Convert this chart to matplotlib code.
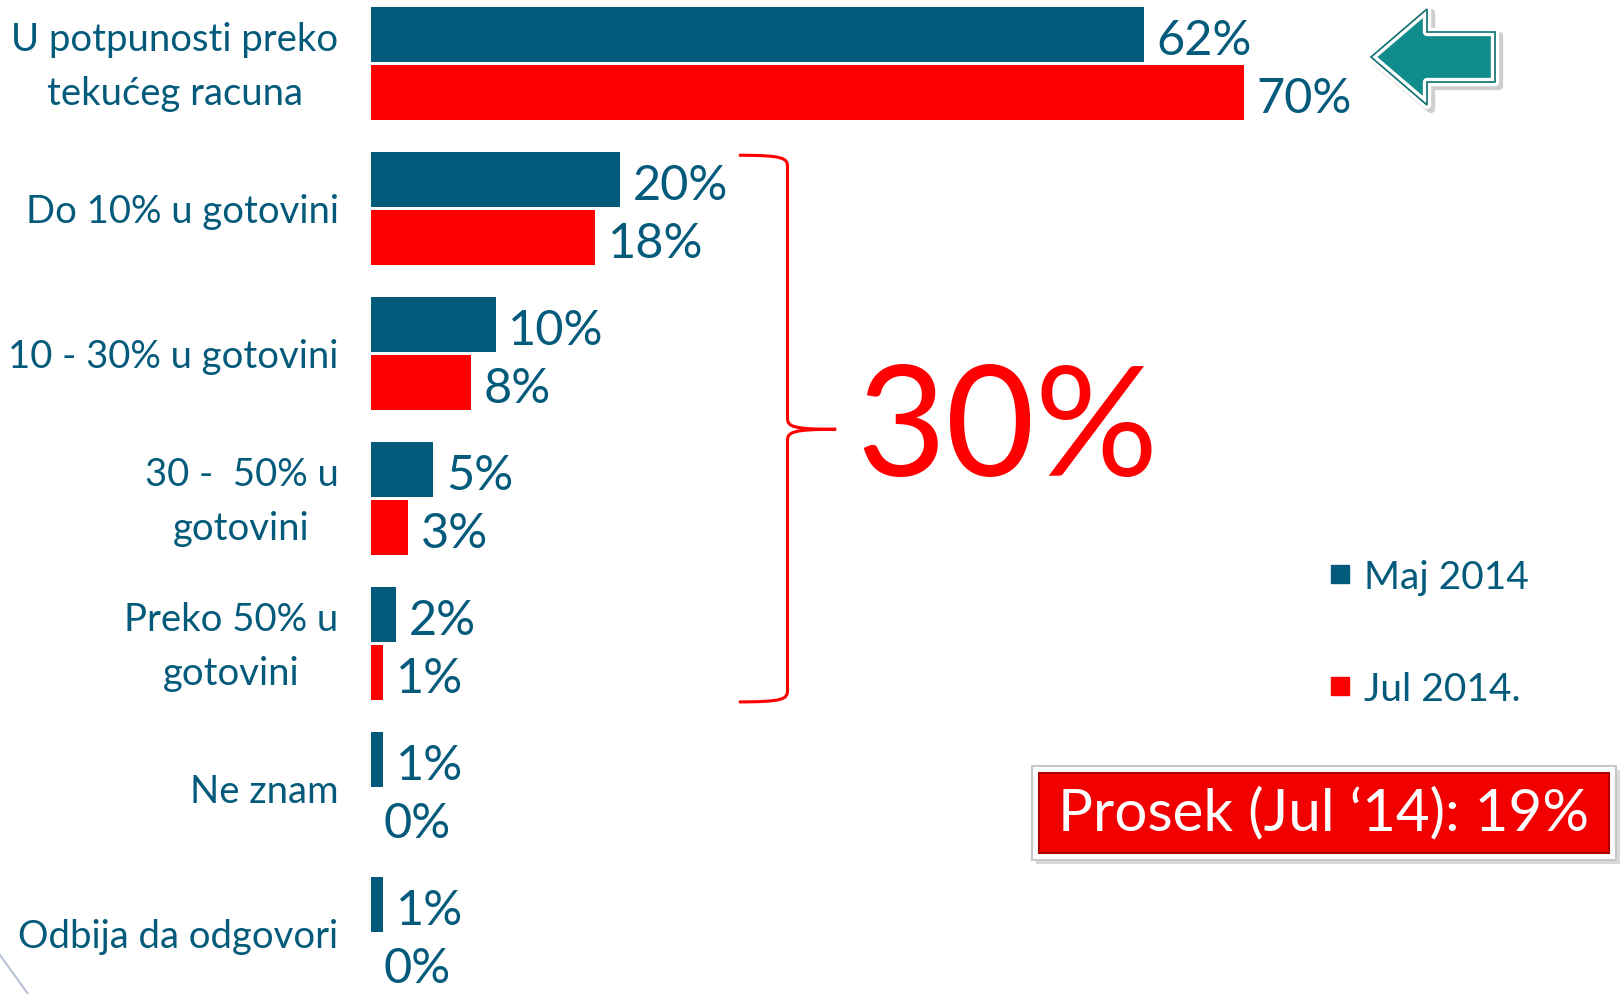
import matplotlib.pyplot as plt
from matplotlib.patches import Polygon, Rectangle
from matplotlib.path import Path
from matplotlib.patches import PathPatch

plt.rcParams['font.family'] = ['Lato', 'DejaVu Sans']

# podaci
kategorije = ['U potpunosti preko\ntekućeg racuna', 'Do 10% u gotovini', '10 - 30% u gotovini',
              '30 -  50% u\ngotovini', 'Preko 50% u\ngotovini', 'Ne znam', 'Odbija da odgovori']
maj_2014 = [62, 20, 10, 5, 2, 1, 1]
jul_2014 = [70, 18, 8, 3, 1, 0, 0]
serije = ['Maj 2014', 'Jul 2014.']
grupa_zbir = '30%'
prosek_tekst = 'Prosek (Jul \u201814): 19%'

PLAVA = '#035a7a'
CRVENA = '#ff0000'
W, H = 1623, 994

fig = plt.figure(figsize=(W / 100, H / 100), dpi=100)

# glavne ose sa stubicima
px_po_proc = 12.47
ax = fig.add_axes([371 / W, 0, 100 * px_po_proc / W, 1])
ax.set_xlim(0, 100)
ax.set_ylim((H - 63.9) / 145, -63.9 / 145)
ax.axis('off')

y = list(range(len(kategorije)))
ax.barh([i - 0.2 for i in y], maj_2014, height=0.38, color=PLAVA)
ax.barh([i + 0.2 for i in y], jul_2014, height=0.38, color=CRVENA)

for i in y:
    ax.text(maj_2014[i] + 1.0, i - 0.16, f'{maj_2014[i]}%', va='center', ha='left',
            fontsize=35, color=PLAVA)
    ax.text(jul_2014[i] + 1.0, i + 0.24, f'{jul_2014[i]}%', va='center', ha='left',
            fontsize=35, color=PLAVA)
    ax.text(-2.6, i + 0.02, kategorije[i], va='center', ha='right', multialignment='center',
            fontsize=27.5, color=PLAVA, linespacing=1.62)

# viticasta zagrada
x0, x1, x2 = 29.5, 33.4, 37.3
y0, ym, y1 = 0.63, 2.52, 4.4
d = 0.08
verts = [(x0, y0), (x1 - 0.3, y0), (x1, y0 + 0.02), (x1, y0 + d),
         (x1, ym - d),
         (x1, ym - 0.02), (x1 + 0.3, ym), (x2, ym),
         (x1 + 0.3, ym), (x1, ym + 0.02), (x1, ym + d),
         (x1, y1 - d),
         (x1, y1 - 0.02), (x1 - 0.3, y1), (x0, y1)]
codes = [Path.MOVETO, Path.CURVE4, Path.CURVE4, Path.CURVE4,
         Path.LINETO,
         Path.CURVE4, Path.CURVE4, Path.CURVE4,
         Path.CURVE4, Path.CURVE4, Path.CURVE4,
         Path.LINETO,
         Path.CURVE4, Path.CURVE4, Path.CURVE4]
ax.add_patch(PathPatch(Path(verts, codes), fill=False, edgecolor=CRVENA, lw=2.2))
ax.text((1008 - 371) / px_po_proc, 2.54, grupa_zbir, fontsize=111, color=CRVENA,
        ha='center', va='center')

# dekoracije u pikselima
ov = fig.add_axes([0, 0, 1, 1])
ov.set_xlim(0, W)
ov.set_ylim(H, 0)
ov.axis('off')
ov.patch.set_alpha(0)

# legenda
for k, (ime, boja) in enumerate(zip(serije, [PLAVA, CRVENA])):
    yy = 574 + k * 112
    ov.add_patch(Rectangle((1331, yy - 9), 18, 18, color=boja))
    ov.text(1364, yy + 4, ime, fontsize=28, color=PLAVA, va='center', ha='left')

# okvir sa prosekom
ov.add_patch(Rectangle((1036, 770), 584, 94, facecolor='#d9d9d9', edgecolor='none'))
ov.add_patch(Rectangle((1032, 766), 584, 94, facecolor='white', edgecolor='#c8c8c8', lw=1.5))
ov.add_patch(Rectangle((1039, 773), 570, 80, facecolor='#f20000', edgecolor='#b00000', lw=1.5))
ov.text(1324, 814, prosek_tekst, fontsize=42, color='white', ha='center', va='center')

# strelica
strelica = [(1371, 57), (1427, 9), (1427, 32), (1495, 32), (1495, 82), (1427, 82), (1427, 105)]
ov.add_patch(Polygon([(x + 4, yv + 4) for x, yv in strelica], closed=True,
                     facecolor='#cfcfcf', edgecolor='#cfcfcf', lw=6, joinstyle='round'))
ov.add_patch(Polygon(strelica, closed=True, facecolor='#108c8c', edgecolor='white',
                     lw=6, joinstyle='round'))
ov.add_patch(Polygon(strelica, closed=True, facecolor='none', edgecolor='#0b6f6f', lw=1.2))

# ukrasna linija u uglu
ov.plot([0, 28], [955, 994], color='#b8c2d6', lw=1.5)

fig.savefig('out.png', dpi=100)
